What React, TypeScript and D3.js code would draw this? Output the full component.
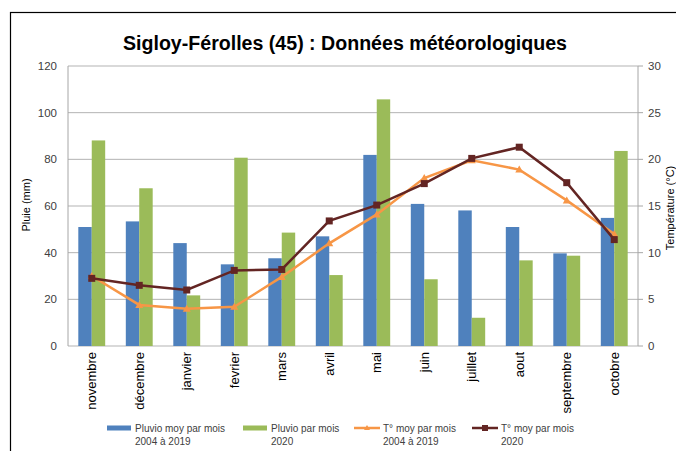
import * as d3 from "d3";

// Data
const months = [
  "novembre", "décembre", "janvier", "fevrier", "mars", "avril",
  "mai", "juin", "juillet", "aout", "septembre", "octobre"
];
const pluvioMoy = [51, 53.4, 44.1, 35, 37.6, 47, 81.9, 60.9, 58.1, 51, 39.7, 54.9];
const pluvio2020 = [88.1, 67.6, 21.7, 80.7, 48.6, 30.4, 105.7, 28.6, 12.1, 36.7, 38.7, 83.6];
const tempMoy = [7.5, 4.4, 4.0, 4.2, 7.4, 11.0, 14.1, 18.0, 19.9, 18.9, 15.6, 12.0];
const temp2020 = [7.25, 6.5, 6.0, 8.1, 8.2, 13.4, 15.1, 17.4, 20.1, 21.3, 17.5, 11.4];
const leftTicks = [0, 20, 40, 60, 80, 100, 120];
const rightTicks = [0, 5, 10, 15, 20, 25, 30];

const legendItems = [
  { label: ["Pluvio moy par mois", "2004 à 2019"], color: "#4F81BD", kind: "bar" },
  { label: ["Pluvio par mois", "2020"], color: "#9BBB59", kind: "bar" },
  { label: ["T° moy par mois", "2004 à 2019"], color: "#F79646", kind: "tri" },
  { label: ["T° moy par mois", "2020"], color: "#632523", kind: "sq" },
];

const font = "'Liberation Sans', Arial, sans-serif";
const textColor = "#404040";

export default function App() {
  const left = 68, right = 638, top = 66, bottom = 346;

  const x = d3.scaleBand().domain(months).range([left, right]);
  const yL = d3.scaleLinear().domain([0, 120]).range([bottom, top]);
  const yR = d3.scaleLinear().domain([0, 30]).range([bottom, top]);

  const barW = x.bandwidth() * 0.283;
  const cx = (m: string) => (x(m) as number) + x.bandwidth() / 2;

  const tempLine = d3.line<number>().x((_, i) => cx(months[i])).y(d => yR(d));
  const legendX = [107, 243, 354, 472];

  return (
    <svg width={676} height={451} style={{ position: "absolute", left: 0, top: 0 }}>
      <rect x={0} y={0} width={676} height={451} fill="#fff" />
      <rect x={10.5} y={12.5} width={700} height={460} fill="none" stroke="#000" strokeWidth={1.2} />

      <text x={345} y={50} textAnchor="middle" fontFamily={font} fontWeight="bold" fontSize={20}
        textLength={444} lengthAdjust="spacingAndGlyphs" fill="#000">
        Sigloy-Férolles (45) : Données météorologiques
      </text>

      {/* gridlines */}
      {leftTicks.map(t => (
        <line key={t} x1={left} x2={right} y1={yL(t)} y2={yL(t)} stroke="#B3B3B3" strokeWidth={1} />
      ))}
      <line x1={left} x2={left} y1={top} y2={bottom} stroke="#A6A6A6" />
      <line x1={right} x2={right} y1={top} y2={bottom} stroke="#A6A6A6" />
      {rightTicks.map(t => (
        <line key={t} x1={right} x2={right + 5} y1={yR(t)} y2={yR(t)} stroke="#A6A6A6" />
      ))}

      {/* axis labels */}
      {leftTicks.map(t => (
        <text key={t} x={57} y={yL(t) + 4} textAnchor="end" fontFamily={font} fontSize={11.5} fill={textColor}>{t}</text>
      ))}
      {rightTicks.map(t => (
        <text key={t} x={648} y={yR(t) + 4} textAnchor="start" fontFamily={font} fontSize={11.5} fill={textColor}>{t}</text>
      ))}

      <text transform="translate(30,205) rotate(-90)" textAnchor="middle" fontFamily={font} fontSize={11} fill="#000">Pluie (mm)</text>
      <text transform="translate(674,208) rotate(-90)" textAnchor="middle" fontFamily={font} fontSize={11} fill="#000">Température (°C)</text>

      {/* bars */}
      {months.map((m, i) => (
        <g key={m}>
          <rect x={cx(m) - barW} y={yL(pluvioMoy[i])} width={barW} height={bottom - yL(pluvioMoy[i])} fill="#4F81BD" />
          <rect x={cx(m)} y={yL(pluvio2020[i])} width={barW} height={bottom - yL(pluvio2020[i])} fill="#9BBB59" />
        </g>
      ))}

      {/* lines */}
      <path d={tempLine(tempMoy) || ""} fill="none" stroke="#F79646" strokeWidth={2.5} />
      {tempMoy.map((t, i) => {
        const px = cx(months[i]), py = yR(t);
        return <path key={i} d={`M${px},${py - 4}L${px + 4},${py + 3}L${px - 4},${py + 3}Z`} fill="#F79646" />;
      })}
      <path d={tempLine(temp2020) || ""} fill="none" stroke="#632523" strokeWidth={2.5} />
      {temp2020.map((t, i) => (
        <rect key={i} x={cx(months[i]) - 3.5} y={yR(t) - 3.5} width={7} height={7} fill="#632523" />
      ))}

      {/* x labels */}
      {months.map(m => (
        <text key={m} transform={`translate(${cx(m) + 4.5},352) rotate(-90)`} textAnchor="end"
          fontFamily={font} fontSize={13} fill="#000">{m}</text>
      ))}

      {/* legend */}
      {legendItems.map((it, i) => {
        const lx = legendX[i];
        const tx = lx + (it.kind === "bar" ? 28 : 29);
        return (
          <g key={i}>
            {it.kind === "bar" ? (
              <rect x={lx} y={425.5} width={24} height={5} fill={it.color} />
            ) : (
              <line x1={lx} x2={lx + 26} y1={428} y2={428} stroke={it.color} strokeWidth={2.5} />
            )}
            {it.kind === "tri" && <path d={`M${lx + 13},${425}L${lx + 16},${430}L${lx + 10},${430}Z`} fill={it.color} />}
            {it.kind === "sq" && <rect x={lx + 10} y={425} width={6} height={6} fill={it.color} />}
            <text x={tx} y={432} fontFamily={font} fontSize={10} fill={textColor}>{it.label[0]}</text>
            <text x={tx} y={445} fontFamily={font} fontSize={10} fill={textColor}>{it.label[1]}</text>
          </g>
        );
      })}
    </svg>
  );
}
